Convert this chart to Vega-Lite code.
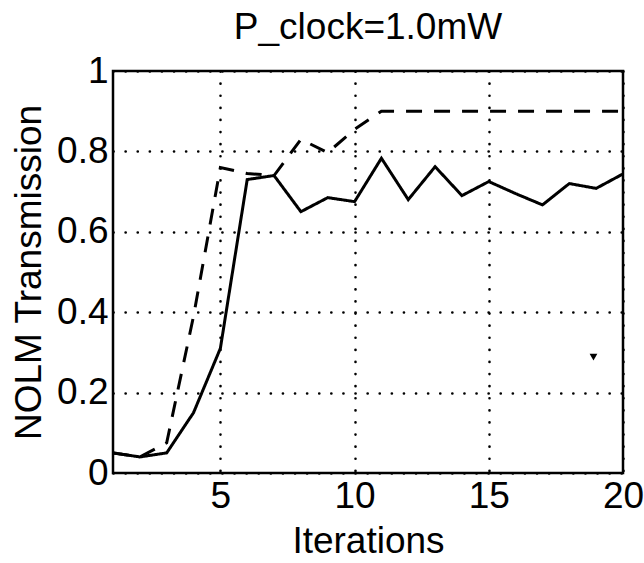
{
  "$schema": "https://vega.github.io/schema/vega-lite/v6.json",
  "autosize": {"type": "none"},
  "width": 510,
  "height": 402,
  "padding": {"left": 113, "top": 71, "right": 21, "bottom": 90},
  "background": "white",
  "config": {
    "font": "Liberation Sans",
    "view": {"stroke": "black", "strokeWidth": 2.5},
    "axis": {
      "domain": false,
      "ticks": false,
      "grid": true,
      "gridColor": "black",
      "gridOpacity": 1,
      "gridWidth": 2.6,
      "gridDash": [0.1, 12],
      "gridCap": "round",
      "labelFont": "Liberation Sans",
      "labelFontSize": 37,
      "labelColor": "black",
      "titleFont": "Liberation Sans",
      "titleFontSize": 37,
      "titleFontWeight": "normal",
      "titleColor": "black"
    }
  },
  "title": {
    "text": "P_clock=1.0mW",
    "font": "Liberation Sans",
    "fontSize": 37,
    "fontWeight": "normal",
    "color": "black",
    "anchor": "middle",
    "offset": 5
  },
  "datasets": {
    "curves": [
      {"iter": 1, "value": 0.05, "series": "solid"},
      {"iter": 2, "value": 0.04, "series": "solid"},
      {"iter": 3, "value": 0.05, "series": "solid"},
      {"iter": 4, "value": 0.15, "series": "solid"},
      {"iter": 5, "value": 0.31, "series": "solid"},
      {"iter": 6, "value": 0.73, "series": "solid"},
      {"iter": 7, "value": 0.74, "series": "solid"},
      {"iter": 8, "value": 0.65, "series": "solid"},
      {"iter": 9, "value": 0.685, "series": "solid"},
      {"iter": 10, "value": 0.675, "series": "solid"},
      {"iter": 11, "value": 0.783, "series": "solid"},
      {"iter": 12, "value": 0.68, "series": "solid"},
      {"iter": 13, "value": 0.762, "series": "solid"},
      {"iter": 14, "value": 0.69, "series": "solid"},
      {"iter": 15, "value": 0.725, "series": "solid"},
      {"iter": 16, "value": 0.695, "series": "solid"},
      {"iter": 17, "value": 0.667, "series": "solid"},
      {"iter": 18, "value": 0.72, "series": "solid"},
      {"iter": 19, "value": 0.708, "series": "solid"},
      {"iter": 20, "value": 0.744, "series": "solid"},
      {"iter": 1, "value": 0.05, "series": "dashed"},
      {"iter": 2, "value": 0.04, "series": "dashed"},
      {"iter": 3, "value": 0.075, "series": "dashed"},
      {"iter": 4, "value": 0.39, "series": "dashed"},
      {"iter": 5, "value": 0.76, "series": "dashed"},
      {"iter": 6, "value": 0.745, "series": "dashed"},
      {"iter": 7, "value": 0.74, "series": "dashed"},
      {"iter": 8, "value": 0.83, "series": "dashed"},
      {"iter": 9, "value": 0.797, "series": "dashed"},
      {"iter": 10, "value": 0.855, "series": "dashed"},
      {"iter": 11, "value": 0.9, "series": "dashed"},
      {"iter": 12, "value": 0.9, "series": "dashed"},
      {"iter": 13, "value": 0.9, "series": "dashed"},
      {"iter": 14, "value": 0.9, "series": "dashed"},
      {"iter": 15, "value": 0.9, "series": "dashed"},
      {"iter": 16, "value": 0.9, "series": "dashed"},
      {"iter": 17, "value": 0.9, "series": "dashed"},
      {"iter": 18, "value": 0.9, "series": "dashed"},
      {"iter": 19, "value": 0.9, "series": "dashed"},
      {"iter": 20, "value": 0.9, "series": "dashed"}
    ],
    "speck": [{"iter": 18.9, "value": 0.288}]
  },
  "layer": [
    {
      "data": {"name": "curves"},
      "mark": {"type": "line", "color": "black", "strokeWidth": 3, "strokeJoin": "miter"},
      "encoding": {
        "x": {
          "field": "iter", "type": "quantitative",
          "scale": {"domain": [1, 20], "nice": false, "zero": false},
          "axis": {"values": [5, 10, 15, 20], "title": "Iterations", "labelPadding": 5, "titlePadding": 9, "labelFlush": false}
        },
        "y": {
          "field": "value", "type": "quantitative",
          "scale": {"domain": [0, 1], "nice": false},
          "axis": {"values": [0, 0.2, 0.4, 0.6, 0.8, 1], "format": "~g", "title": "NOLM Transmission", "labelPadding": 5, "titlePadding": 8, "labelFlush": false}
        },
        "detail": {"field": "series", "type": "nominal"},
        "strokeDash": {
          "field": "series", "type": "nominal",
          "scale": {"domain": ["solid", "dashed"], "range": [[1, 0], [16, 12]]},
          "legend": null
        }
      }
    },
    {
      "data": {"name": "speck"},
      "mark": {"type": "point", "shape": "triangle-down", "filled": true, "color": "black", "size": 60, "opacity": 1},
      "encoding": {
        "x": {"field": "iter", "type": "quantitative"},
        "y": {"field": "value", "type": "quantitative"}
      }
    }
  ]
}
